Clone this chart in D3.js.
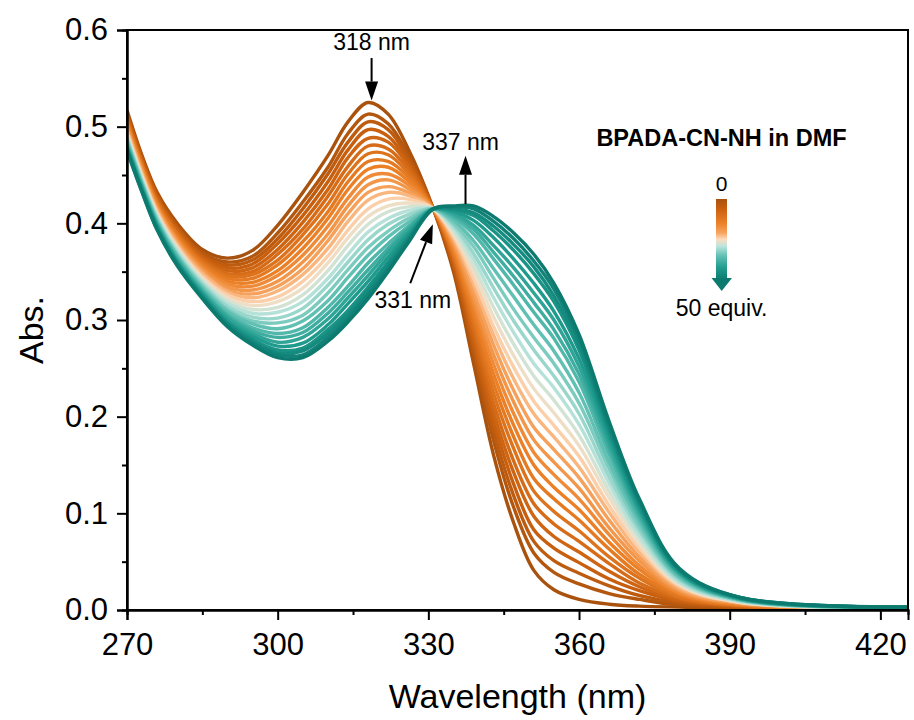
<!DOCTYPE html>
<html>
<head>
<meta charset="utf-8">
<script src="https://cdn.jsdelivr.net/npm/d3@7"></script>
<style>
  body { margin: 0; background: #fff; }
  svg { display: block; }
  text { font-family: "Liberation Sans", Arial, sans-serif; fill: #000; }
</style>
</head>
<body>
<div id="chart"></div>
<script>
// --- Data ---

// wavelengths (nm) at which every spectrum is sampled
const wavelengths = [270, 273, 276, 280, 285, 290, 295, 300, 305, 310, 314, 318, 322, 326,
  331, 335, 339, 343, 347, 351, 355, 360, 366, 372, 380, 392, 426];

// absorbance of each titration spectrum, first = 0 equiv., last = 50 equiv.
const spectra = [
  [0.517,0.470,0.432,0.400,0.373,0.364,0.372,0.398,0.432,0.470,0.505,0.525,0.513,0.477,0.415,0.350,0.255,0.160,0.090,0.041,0.021,0.011,0.006,0.004,0.003,0.002,0.001],
  [0.514,0.468,0.430,0.397,0.370,0.360,0.366,0.390,0.422,0.458,0.493,0.513,0.503,0.471,0.415,0.354,0.265,0.175,0.106,0.059,0.039,0.027,0.017,0.011,0.005,0.003,0.001],
  [0.513,0.466,0.428,0.396,0.368,0.357,0.362,0.384,0.415,0.451,0.484,0.505,0.497,0.467,0.415,0.357,0.271,0.185,0.118,0.071,0.051,0.038,0.025,0.015,0.007,0.003,0.001],
  [0.511,0.465,0.427,0.394,0.366,0.354,0.358,0.379,0.408,0.443,0.476,0.497,0.490,0.463,0.415,0.360,0.278,0.195,0.130,0.083,0.064,0.049,0.032,0.020,0.009,0.004,0.001],
  [0.509,0.463,0.425,0.392,0.364,0.351,0.354,0.373,0.401,0.435,0.468,0.488,0.484,0.460,0.415,0.362,0.284,0.204,0.142,0.097,0.076,0.060,0.040,0.024,0.010,0.004,0.001],
  [0.508,0.462,0.423,0.390,0.362,0.348,0.350,0.368,0.394,0.428,0.459,0.480,0.477,0.456,0.415,0.365,0.291,0.214,0.154,0.110,0.089,0.071,0.048,0.028,0.012,0.004,0.001],
  [0.506,0.460,0.422,0.389,0.360,0.346,0.347,0.362,0.388,0.420,0.451,0.472,0.471,0.452,0.415,0.368,0.297,0.224,0.167,0.123,0.102,0.082,0.055,0.033,0.013,0.005,0.002],
  [0.504,0.459,0.420,0.387,0.358,0.343,0.343,0.357,0.381,0.412,0.443,0.464,0.464,0.448,0.415,0.370,0.304,0.234,0.179,0.136,0.115,0.093,0.063,0.037,0.015,0.005,0.002],
  [0.503,0.457,0.419,0.385,0.356,0.340,0.339,0.351,0.374,0.405,0.435,0.456,0.458,0.444,0.415,0.373,0.310,0.244,0.191,0.150,0.127,0.104,0.070,0.042,0.017,0.006,0.002],
  [0.501,0.456,0.417,0.383,0.354,0.337,0.335,0.346,0.367,0.397,0.426,0.448,0.451,0.440,0.415,0.376,0.317,0.254,0.203,0.163,0.140,0.115,0.078,0.046,0.018,0.006,0.002],
  [0.499,0.454,0.416,0.382,0.352,0.334,0.331,0.340,0.360,0.389,0.418,0.440,0.445,0.436,0.415,0.379,0.323,0.264,0.215,0.176,0.153,0.126,0.085,0.051,0.020,0.007,0.002],
  [0.498,0.453,0.414,0.380,0.350,0.331,0.327,0.335,0.353,0.382,0.410,0.432,0.438,0.432,0.415,0.381,0.330,0.274,0.227,0.189,0.166,0.137,0.093,0.055,0.021,0.007,0.002],
  [0.496,0.451,0.413,0.378,0.348,0.329,0.323,0.330,0.347,0.374,0.402,0.424,0.432,0.429,0.415,0.384,0.337,0.284,0.239,0.203,0.179,0.148,0.101,0.060,0.023,0.008,0.002],
  [0.494,0.449,0.411,0.376,0.345,0.326,0.319,0.324,0.340,0.366,0.393,0.415,0.425,0.425,0.415,0.387,0.343,0.293,0.251,0.216,0.191,0.159,0.108,0.064,0.025,0.008,0.002],
  [0.493,0.448,0.409,0.374,0.343,0.323,0.315,0.319,0.333,0.359,0.385,0.407,0.418,0.421,0.415,0.389,0.350,0.303,0.263,0.229,0.204,0.170,0.116,0.068,0.026,0.008,0.002],
  [0.491,0.446,0.408,0.373,0.341,0.320,0.311,0.313,0.326,0.351,0.377,0.399,0.412,0.417,0.415,0.392,0.356,0.313,0.275,0.242,0.217,0.181,0.123,0.073,0.028,0.009,0.002],
  [0.489,0.445,0.406,0.371,0.339,0.317,0.307,0.308,0.319,0.343,0.368,0.391,0.405,0.413,0.415,0.395,0.363,0.323,0.287,0.255,0.230,0.192,0.131,0.077,0.029,0.009,0.002],
  [0.488,0.443,0.405,0.369,0.337,0.314,0.303,0.302,0.312,0.336,0.360,0.383,0.399,0.409,0.415,0.398,0.369,0.333,0.299,0.269,0.242,0.203,0.138,0.082,0.031,0.010,0.002],
  [0.486,0.442,0.403,0.367,0.335,0.311,0.299,0.297,0.305,0.328,0.352,0.375,0.392,0.405,0.415,0.400,0.376,0.343,0.311,0.282,0.255,0.214,0.146,0.086,0.033,0.010,0.002],
  [0.484,0.440,0.402,0.366,0.333,0.309,0.296,0.291,0.299,0.320,0.344,0.367,0.386,0.401,0.415,0.403,0.382,0.353,0.324,0.295,0.268,0.225,0.153,0.091,0.034,0.011,0.003],
  [0.483,0.439,0.400,0.364,0.331,0.306,0.292,0.286,0.292,0.313,0.335,0.359,0.379,0.397,0.415,0.406,0.389,0.363,0.336,0.308,0.281,0.236,0.161,0.095,0.036,0.011,0.003],
  [0.481,0.438,0.399,0.363,0.330,0.304,0.289,0.282,0.287,0.307,0.329,0.352,0.374,0.395,0.415,0.408,0.394,0.370,0.345,0.318,0.290,0.244,0.167,0.098,0.037,0.011,0.003],
  [0.480,0.437,0.398,0.361,0.328,0.302,0.286,0.277,0.282,0.301,0.323,0.346,0.370,0.392,0.415,0.410,0.398,0.377,0.354,0.328,0.300,0.252,0.172,0.102,0.038,0.012,0.003],
  [0.479,0.435,0.397,0.360,0.327,0.299,0.283,0.273,0.276,0.295,0.317,0.340,0.365,0.389,0.415,0.412,0.403,0.385,0.363,0.338,0.309,0.260,0.178,0.105,0.039,0.012,0.003],
  [0.478,0.434,0.395,0.359,0.325,0.297,0.280,0.269,0.271,0.290,0.310,0.334,0.360,0.386,0.415,0.414,0.408,0.392,0.372,0.348,0.319,0.269,0.184,0.108,0.041,0.012,0.003],
  [0.477,0.434,0.395,0.358,0.324,0.296,0.278,0.266,0.268,0.286,0.306,0.330,0.357,0.384,0.415,0.415,0.411,0.397,0.378,0.355,0.325,0.274,0.187,0.111,0.041,0.013,0.003],
  [0.476,0.433,0.394,0.357,0.323,0.294,0.276,0.264,0.264,0.282,0.302,0.326,0.353,0.382,0.415,0.417,0.415,0.402,0.384,0.361,0.332,0.280,0.191,0.113,0.042,0.013,0.003],
  [0.475,0.432,0.393,0.356,0.322,0.293,0.274,0.261,0.261,0.278,0.298,0.322,0.350,0.380,0.415,0.418,0.418,0.407,0.390,0.368,0.338,0.285,0.195,0.115,0.043,0.013,0.003]
];

// axis ticks
const xTicks = [270, 300, 330, 360, 390, 420];
const xMinorTicks = [285, 315, 345, 375, 405];
const yTicks = [0, 0.1, 0.2, 0.3, 0.4, 0.5, 0.6];
const yMinorTicks = [0.05, 0.15, 0.25, 0.35, 0.45, 0.55];

// peak annotations
const peakLabels = ["318 nm", "337 nm", "331 nm"];
const legendTitle = "BPADA-CN-NH in DMF";
const legendEnds = ["0", "50 equiv."];

// --- Layout ---
const w = 914;
const h = 720;
const plotLeft = 127, plotRight = 908, plotTop = 30, plotBottom = 610;

const svg = d3.select("#chart")
  .append("svg")
  .attr("width", w)
  .attr("height", h);

const xScale = d3.scaleLinear().domain([270, 425.5]).range([plotLeft, plotRight]);
const yScale = d3.scaleLinear().domain([0, 0.6]).range([plotBottom, plotTop]);

// colour ramp: dark orange -> pale -> dark teal
const colorStops = ["#a9520e", "#c9600f", "#ec8128", "#f7a561", "#fcdcbf", "#bfe5dc", "#62c1b4", "#1f9b8e", "#0c7a6f"];
const color = d3.scaleLinear()
  .domain([0, 0.12, 0.3, 0.42, 0.5, 0.58, 0.7, 0.85, 1])
  .range(colorStops);

const defs = svg.append("defs");
defs.append("clipPath")
  .attr("id", "plotclip")
  .append("rect")
  .attr("x", plotLeft).attr("y", plotTop)
  .attr("width", plotRight - plotLeft).attr("height", plotBottom - plotTop);

const line = d3.line()
  .x(function (d, i) { return xScale(wavelengths[i]); })
  .y(function (d) { return yScale(d); })
  .curve(d3.curveCatmullRom.alpha(0.5));

svg.append("g")
  .attr("clip-path", "url(#plotclip)")
  .selectAll("path")
  .data(spectra)
  .enter()
  .append("path")
  .attr("d", line)
  .attr("fill", "none")
  .attr("stroke", function (d, i) { return color(i / (spectra.length - 1)); })
  .attr("stroke-width", 3.4)
  .attr("stroke-linejoin", "round");

// frame
svg.append("rect")
  .attr("x", plotLeft).attr("y", plotTop)
  .attr("width", plotRight - plotLeft).attr("height", plotBottom - plotTop)
  .attr("fill", "none")
  .attr("stroke", "#000")
  .attr("stroke-width", 2);

// axes
function styleAxis(g) {
  g.select(".domain").attr("stroke-width", 2);
  g.selectAll(".tick line").attr("stroke-width", 2);
  g.selectAll(".tick text")
    .attr("font-size", "31px")
    .style("font-family", '"Liberation Sans", Arial, sans-serif');
}

svg.append("g")
  .attr("transform", "translate(0," + plotBottom + ")")
  .call(d3.axisBottom(xScale).tickValues(xMinorTicks).tickSize(5).tickFormat(""))
  .call(styleAxis);
svg.append("g")
  .attr("transform", "translate(0," + plotBottom + ")")
  .call(d3.axisBottom(xScale).tickValues(xTicks).tickSize(10).tickPadding(13).tickFormat(d3.format("d")))
  .call(styleAxis);

svg.append("g")
  .attr("transform", "translate(" + plotLeft + ",0)")
  .call(d3.axisLeft(yScale).tickValues(yMinorTicks).tickSize(5).tickFormat(""))
  .call(styleAxis);
svg.append("g")
  .attr("transform", "translate(" + plotLeft + ",0)")
  .call(d3.axisLeft(yScale).tickValues(yTicks).tickSize(10).tickPadding(9).tickFormat(d3.format(".1f")))
  .call(styleAxis);

// axis titles
svg.append("text")
  .attr("x", (plotLeft + plotRight) / 2)
  .attr("y", 708)
  .attr("text-anchor", "middle")
  .attr("font-size", "34px")
  .text("Wavelength (nm)");

svg.append("text")
  .attr("transform", "translate(43,330) rotate(-90)")
  .attr("text-anchor", "middle")
  .attr("font-size", "34px")
  .text("Abs.");

// --- annotations ---
function arrow(x1, y1, x2, y2) {
  const ang = Math.atan2(y2 - y1, x2 - x1);
  const len = 19, half = 6.5;
  const bx = x2 - len * Math.cos(ang), by = y2 - len * Math.sin(ang);
  svg.append("line")
    .attr("x1", x1).attr("y1", y1)
    .attr("x2", bx).attr("y2", by)
    .attr("stroke", "#000").attr("stroke-width", 2);
  svg.append("path")
    .attr("d", "M" + x2 + "," + y2 +
      "L" + (bx + half * Math.sin(ang)) + "," + (by - half * Math.cos(ang)) +
      "L" + (bx - half * Math.sin(ang)) + "," + (by + half * Math.cos(ang)) + "Z")
    .attr("fill", "#000");
}

arrow(xScale(318.7), yScale(0.571), xScale(318.7), yScale(0.527));
svg.append("text")
  .attr("x", xScale(318.7)).attr("y", yScale(0.579))
  .attr("text-anchor", "middle").attr("font-size", "23px")
  .text(peakLabels[0]);

arrow(xScale(337.4), yScale(0.42), xScale(337.4), yScale(0.47));
svg.append("text")
  .attr("x", xScale(336.4)).attr("y", yScale(0.476))
  .attr("text-anchor", "middle").attr("font-size", "23px")
  .text(peakLabels[1]);

arrow(xScale(326.4), yScale(0.338), xScale(330.9), yScale(0.399));
svg.append("text")
  .attr("x", xScale(326.9)).attr("y", yScale(0.312))
  .attr("text-anchor", "middle").attr("font-size", "23px")
  .text(peakLabels[2]);

// --- legend ---
const grad = defs.append("linearGradient")
  .attr("id", "legendgrad")
  .attr("x1", 0).attr("y1", 0).attr("x2", 0).attr("y2", 1);
grad.selectAll("stop")
  .data([0, 0.12, 0.3, 0.42, 0.5, 0.58, 0.7, 0.85, 1])
  .enter()
  .append("stop")
  .attr("offset", function (d) { return d; })
  .attr("stop-color", function (d) { return color(d); });

svg.append("text")
  .attr("x", 721.5).attr("y", 146)
  .attr("text-anchor", "middle")
  .attr("font-size", "23.5px")
  .attr("font-weight", "bold")
  .text(legendTitle);

svg.append("text")
  .attr("x", 721.5).attr("y", 191)
  .attr("text-anchor", "middle")
  .attr("font-size", "21px")
  .text(legendEnds[0]);

svg.append("rect")
  .attr("x", 716).attr("y", 199)
  .attr("width", 11).attr("height", 81)
  .attr("fill", "url(#legendgrad)");
svg.append("path")
  .attr("d", "M711.5,278L732,278L721.7,291Z")
  .attr("fill", color(1));

svg.append("text")
  .attr("x", 721.5).attr("y", 316)
  .attr("text-anchor", "middle")
  .attr("font-size", "23px")
  .text(legendEnds[1]);
</script>
</body>
</html>
